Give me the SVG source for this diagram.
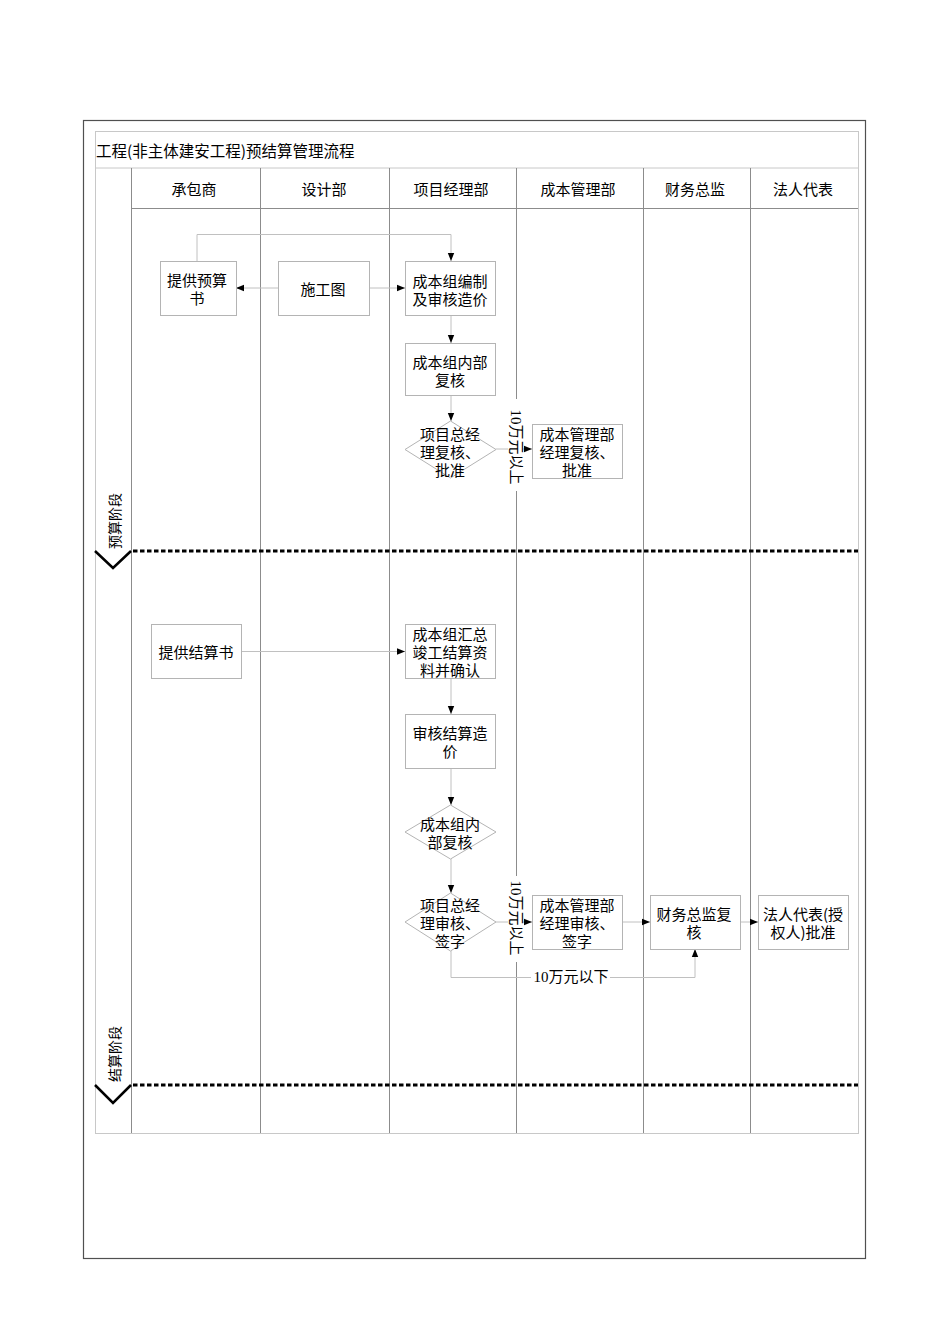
<svg xmlns="http://www.w3.org/2000/svg" width="950" height="1344" viewBox="0 0 950 1344">
<defs>
<marker id="ah" viewBox="0 0 8 8" refX="8" refY="4" markerWidth="8" markerHeight="8" markerUnits="userSpaceOnUse" orient="auto">
<path d="M0,0.8 L8,4 L0,7.2 Z" fill="#000"/>
</marker>
<style>
text{font-family:"Noto Sans CJK SC","Liberation Sans",sans-serif;font-size:15px;fill:#000;text-anchor:middle;dominant-baseline:central}
.num{font-family:"Liberation Serif","Noto Sans CJK SC",serif}
.title{text-anchor:start;font-size:15.5px}
.phase{font-size:14px}
.box{fill:#fff;stroke:#b4b4b4;stroke-width:1}
.lane{stroke:#8c8c8c;stroke-width:1;fill:none}
.light{stroke:#c8c8c8;stroke-width:1;fill:none}
.conn{stroke:#c0c0c0;stroke-width:1;fill:none}
.arr{marker-end:url(#ah)}
.dash{stroke:#000;stroke-width:3;stroke-dasharray:4.5 2.5;fill:none}
.chev{stroke:#000;stroke-width:2.5;fill:none}
</style>
</defs>
<rect width="950" height="1344" fill="#fff"/>
<g id="frame">
<rect x="83.5" y="120.5" width="782" height="1138" fill="none" stroke="#505050" stroke-width="1.2"/>
<rect x="95.5" y="131.5" width="763" height="1002" class="light"/>
<line x1="95" y1="168" x2="858" y2="168" class="light"/>
<line x1="131" y1="208.5" x2="858" y2="208.5" class="lane"/>
<text x="96" y="150" class="title">工程(非主体建安工程)预结算管理流程</text>
</g>
<g id="lanes">
<line x1="131.5" y1="168" x2="131.5" y2="1133" class="lane"/>
<line x1="260.5" y1="168" x2="260.5" y2="1133" class="lane"/>
<line x1="389.5" y1="168" x2="389.5" y2="1133" class="lane"/>
<line x1="516.5" y1="168" x2="516.5" y2="1133" class="lane"/>
<line x1="643.5" y1="168" x2="643.5" y2="1133" class="lane"/>
<line x1="750.5" y1="168" x2="750.5" y2="1133" class="lane"/>
<text x="194" y="188">承包商</text>
<text x="324" y="188">设计部</text>
<text x="451" y="188">项目经理部</text>
<text x="578" y="188">成本管理部</text>
<text x="695" y="188">财务总监</text>
<text x="803" y="188">法人代表</text>
</g>
<g id="phases">
<path d="M95,551 L113,568 L131,551" class="chev"/>
<line x1="133" y1="551" x2="858" y2="551" class="dash"/>
<text class="phase" transform="translate(114,521) rotate(-90)">预算阶段</text>
<path d="M95,1085 L113,1103 L131,1085" class="chev"/>
<line x1="133" y1="1085" x2="858" y2="1085" class="dash"/>
<text class="phase" transform="translate(114,1054) rotate(-90)">结算阶段</text>
</g>
<g id="connectors">
<line x1="278" y1="288" x2="236" y2="288" class="conn arr"/>
<line x1="369" y1="288" x2="405" y2="288" class="conn arr"/>
<polyline points="197,261 197,234.5 451,234.5 451,261" class="conn arr"/>
<line x1="451" y1="316" x2="451" y2="343" class="conn arr"/>
<line x1="451" y1="395" x2="451" y2="421" class="conn arr"/>
<line x1="496" y1="449" x2="532" y2="449" class="conn arr"/>
<line x1="242" y1="651.5" x2="405" y2="651.5" class="conn arr"/>
<line x1="451" y1="678" x2="451" y2="714" class="conn arr"/>
<line x1="451" y1="769" x2="451" y2="805" class="conn arr"/>
<line x1="451" y1="859" x2="451" y2="893" class="conn arr"/>
<line x1="496" y1="922" x2="532" y2="922" class="conn arr"/>
<line x1="622" y1="922" x2="650" y2="922" class="conn arr"/>
<line x1="740" y1="922" x2="758" y2="922" class="conn arr"/>
<polyline points="451,951 451,977.5 695,977.5 695,949" class="conn arr"/>
<rect x="508" y="399" width="15" height="92" fill="#fff"/>
<text class="num" transform="translate(515.5,447) rotate(90)">10万元以上</text>
<rect x="508" y="876" width="15" height="86" fill="#fff"/>
<text class="num" transform="translate(515.5,918) rotate(90)">10万元以上</text>
<rect x="531" y="968" width="79" height="19" fill="#fff"/>
<text class="num" x="571" y="977">10万元以下</text>
</g>
<g id="n1">
<rect x="160.5" y="261.5" width="76" height="54" class="box"/>
<text><tspan x="197" y="279">提供预算</tspan><tspan x="197" y="297">书</tspan></text>
</g>
<g id="n2">
<rect x="278.5" y="261.5" width="91" height="54" class="box"/>
<text x="323" y="288">施工图</text>
</g>
<g id="n3">
<rect x="405.5" y="261.5" width="90" height="54" class="box"/>
<text><tspan x="450" y="280">成本组编制</tspan><tspan x="450" y="298">及审核造价</tspan></text>
</g>
<g id="n4">
<rect x="405.5" y="343.5" width="90" height="52" class="box"/>
<text><tspan x="450" y="361">成本组内部</tspan><tspan x="450" y="379">复核</tspan></text>
</g>
<g id="n5">
<polygon points="450.5,421 496,449.5 450.5,478 405,449.5" class="box"/>
<text><tspan x="450" y="433">项目总经</tspan><tspan x="450" y="451">理复核、</tspan><tspan x="450" y="469">批准</tspan></text>
</g>
<g id="n6">
<rect x="532.5" y="424.5" width="90" height="54" class="box"/>
<text><tspan x="577" y="433">成本管理部</tspan><tspan x="577" y="451">经理复核、</tspan><tspan x="577" y="469">批准</tspan></text>
</g>
<g id="n7">
<rect x="151.5" y="624.5" width="90" height="54" class="box"/>
<text x="196" y="651">提供结算书</text>
</g>
<g id="n8">
<rect x="405.5" y="624.5" width="90" height="54" class="box"/>
<text><tspan x="450" y="633">成本组汇总</tspan><tspan x="450" y="651">竣工结算资</tspan><tspan x="450" y="669">料并确认</tspan></text>
</g>
<g id="n9">
<rect x="405.5" y="714.5" width="90" height="54" class="box"/>
<text><tspan x="450" y="732">审核结算造</tspan><tspan x="450" y="750">价</tspan></text>
</g>
<g id="n10">
<polygon points="450.5,805 496,832 450.5,859 405,832" class="box"/>
<text><tspan x="450" y="823">成本组内</tspan><tspan x="450" y="841">部复核</tspan></text>
</g>
<g id="n11">
<polygon points="450.5,893 496,922 450.5,951 405,922" class="box"/>
<text><tspan x="450" y="904">项目总经</tspan><tspan x="450" y="922">理审核、</tspan><tspan x="450" y="940">签字</tspan></text>
</g>
<g id="n12">
<rect x="532.5" y="895.5" width="90" height="54" class="box"/>
<text><tspan x="577" y="904">成本管理部</tspan><tspan x="577" y="922">经理审核、</tspan><tspan x="577" y="940">签字</tspan></text>
</g>
<g id="n13">
<rect x="650.5" y="895.5" width="90" height="54" class="box"/>
<text><tspan x="694" y="913">财务总监复</tspan><tspan x="694" y="931">核</tspan></text>
</g>
<g id="n14">
<rect x="758.5" y="895.5" width="90" height="54" class="box"/>
<text><tspan x="803" y="913">法人代表(授</tspan><tspan x="803" y="931">权人)批准</tspan></text>
</g>
</svg>
